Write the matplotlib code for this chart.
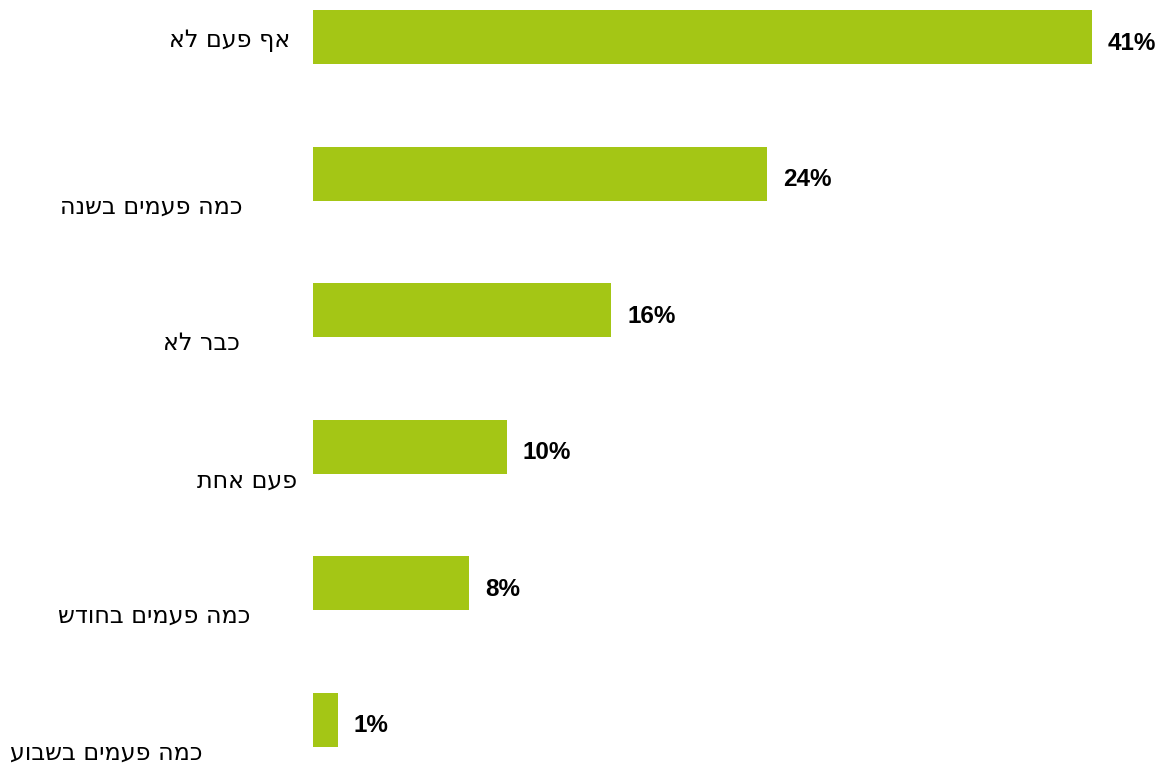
import matplotlib
matplotlib.use("Agg")
import matplotlib.pyplot as plt

# Data (logical Hebrew order)
categories = ["אף פעם לא", "כמה פעמים בשנה", "כבר לא", "פעם אחת",
              "כמה פעמים בחודש", "כמה פעמים בשבוע"]
values = [41.0, 23.9, 15.7, 10.2, 8.2, 1.3]

# Layout: label right-edge offset (px) from bar start, and vertical offset (px, downward)
label_dx = [-23, -70, -73, -16, -63, -110]
label_dy = [3, 33, 33, 34, 32, 33]

W, H, DPI = 1166, 764, 100
fig = plt.figure(figsize=(W / DPI, H / DPI), dpi=DPI)
ax_left = 313 / W
ax = fig.add_axes([ax_left, 0, 1 - ax_left, 1])

unit = 136.6
top = -37 / unit
bottom = 5 + (764 - 720) / unit
ypos = list(range(len(categories)))
ax.barh(ypos, values, height=0.395, color="#A4C615", edgecolor="none")
ax.set_ylim(bottom, top)
ax.set_xlim(0, (W - 313) / 19.0)
ax.axis("off")

for i, (cat, v) in enumerate(zip(categories, values)):
    ax.annotate(f"{v:.0f}%", xy=(v, i), xytext=(16, -6), textcoords="offset pixels",
                ha="left", va="center", fontsize=17.5, fontweight="bold",
                family="Liberation Sans", color="#000000")
    ax.annotate(cat[::-1], xy=(0, i), xytext=(label_dx[i], -label_dy[i]),
                textcoords="offset pixels", ha="right", va="center",
                fontsize=17.2, family="DejaVu Sans", color="#000000",
                annotation_clip=False)

fig.savefig("out.png", dpi=DPI)
